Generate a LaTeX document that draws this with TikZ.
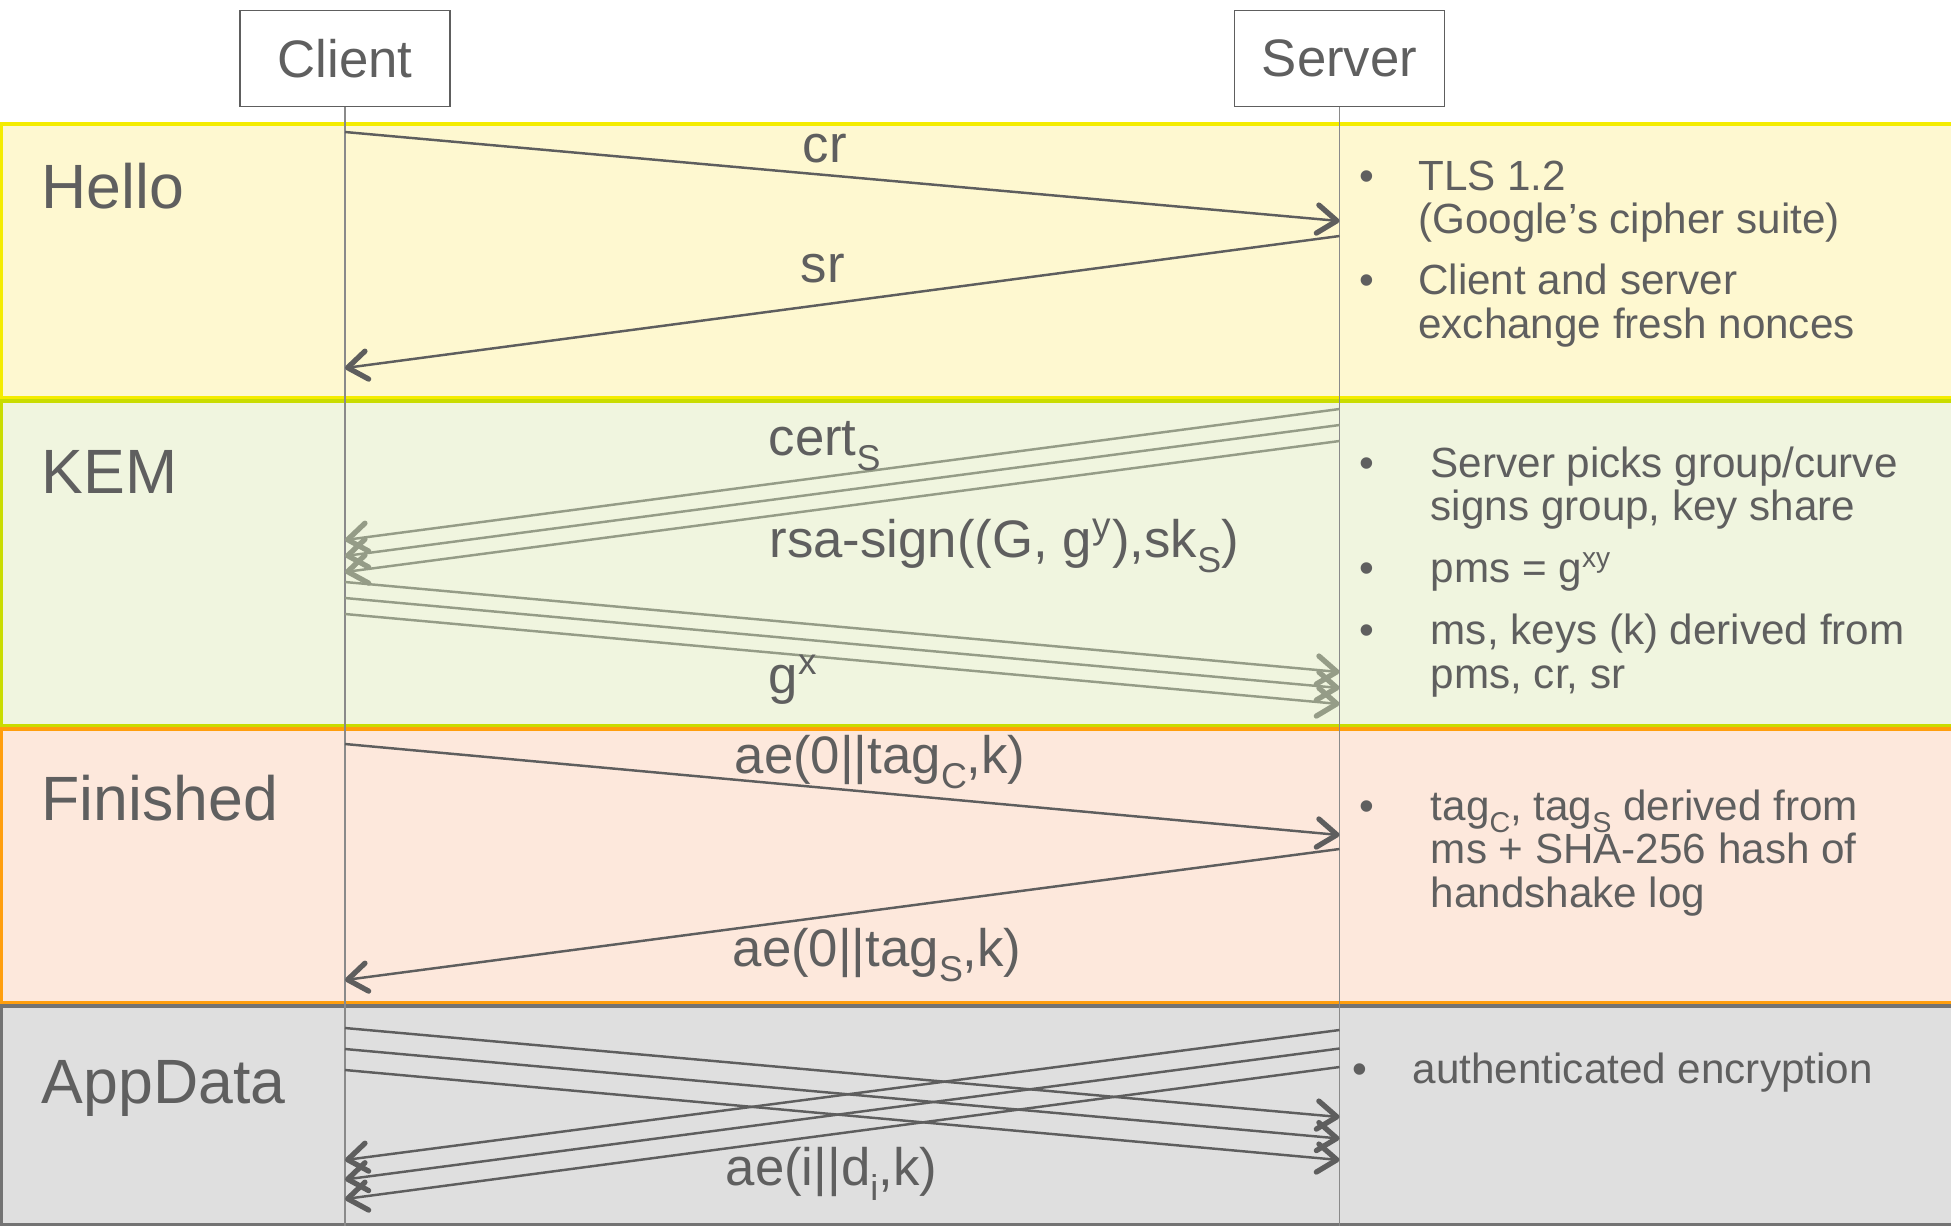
\documentclass[tikz,border=0pt]{standalone}
\usepackage{fontspec}
\setmainfont{Liberation Sans}
\usepackage{xcolor}
\usepackage{tikz}
\usetikzlibrary{arrows.meta}
\definecolor{textgrey}{HTML}{5F5F5F}
\definecolor{linegrey}{HTML}{5E5E5E}
\definecolor{kemgrey}{HTML}{959C87}
\definecolor{lifegrey}{HTML}{8A8A8A}
\definecolor{hellofill}{HTML}{FEF8D0}
\definecolor{helloedge}{HTML}{F4EC00}
\definecolor{kemfill}{HTML}{F0F5DF}
\definecolor{kemedge}{HTML}{C9DC00}
\definecolor{finfill}{HTML}{FDE8DC}
\definecolor{finedge}{HTML}{FF9E0D}
\definecolor{appfill}{HTML}{DFDFDF}
\definecolor{appedge}{HTML}{737373}
% lowered subscript, as in the slides
\newcommand{\lsub}[1]{\raisebox{-0.3em}{\scalebox{0.68}{#1}}}

\tikzset{
  party/.style={draw=linegrey, line width=0.45pt, fill=white, minimum width=2.1cm,
    minimum height=0.96cm, text=textgrey, font=\fontsize{15}{18}\selectfont},
  band/.style={line width=0.9pt},
  phase/.style={anchor=base west, inner sep=0pt, text=textgrey, font=\fontsize{17.8}{21}\selectfont},
  msglabel/.style={anchor=base west, inner sep=0pt, text=textgrey, font=\fontsize{15}{18}\selectfont},
  notes/.style={anchor=base west, inner sep=0pt, text=textgrey, font=\fontsize{12}{12.5}\selectfont},
  msg/.style={draw=linegrey, line width=0.7pt,
    -{Straight Barb[length=5.5pt, width=8pt, line width=1.5pt, round]}},
  kemmsg/.style={msg, draw=kemgrey},
  lifeline/.style={draw=lifegrey, line width=0.45pt},
}

\begin{document}
\begin{tikzpicture}[x=0.01cm, y=-0.01cm]
  \useasboundingbox (0,0) rectangle (1951,1226);

  % phases
  \draw[band, fill=hellofill, draw=helloedge] (1.5,124) rectangle (1965,398);
  \draw[band, fill=kemfill, draw=kemedge] (1.5,401) rectangle (1965,726);
  \draw[band, fill=finfill, draw=finedge] (1.5,729) rectangle (1965,1003);
  \draw[band, fill=appfill, draw=appedge] (1.5,1006) rectangle (1965,1224.5);

  \node[phase] (hello) at (41,208) {Hello};
  \node[phase] (kem) at (41,493) {KEM};
  \node[phase] (finished) at (41,820) {Finished};
  \node[phase] (appdata) at (41,1103) {AppData};

  % parties and lifelines
  \node[party] (client) at (345,58.5) {Client};
  \node[party] (server) at (1339.5,58.5) {Server};
  \coordinate (clientend) at (client |- 0,1226);
  \coordinate (serverend) at (server |- 0,1226);
  \draw[lifeline] (client.south) -- (clientend);
  \draw[lifeline] (server.south) -- (serverend);

  % Hello
  \draw[msg] (client |- 0,132) -- (server |- 0,221);
  \draw[msg] (server |- 0,236) -- (client |- 0,368);
  \node[msglabel] (cr) at (802,162) {cr};
  \node[msglabel] (sr) at (800,282) {sr};

  % KEM
  \foreach \dy in {0,16,32} {
    \draw[kemmsg] (server |- 0,{409+\dy}) -- (client |- 0,{540+\dy});
    \draw[kemmsg] (client |- 0,{582+\dy}) -- (server |- 0,{672+\dy});
  }
  \node[msglabel] (cert) at (768,455) {cert\lsub{S}};
  \node[msglabel] (sign) at (769,557) {rsa-sign((G, g\textsuperscript{y}),sk\lsub{S})};
  \node[msglabel] (gx) at (768,693) {g\textsuperscript{x}};

  % Finished
  \draw[msg] (client |- 0,744) -- (server |- 0,835);
  \draw[msg] (server |- 0,849) -- (client |- 0,980);
  \node[msglabel] (tagc) at (734,773) {ae(0||tag\lsub{C},k)};
  \node[msglabel] (tags) at (732,966) {ae(0||tag\lsub{S},k)};

  % AppData
  \foreach \i in {0,1,2} {
    \draw[msg] (client |- 0,{1028+21*\i}) -- (server |- 0,{1117+21.5*\i});
    \draw[msg] (server |- 0,{1030+18.5*\i}) -- (client |- 0,{1160+19.5*\i});
  }
  \node[msglabel] (data) at (725,1185) {ae(i||d\lsub{i},k)};

  % notes
  \node[notes] (hellonotes) at (1358.6,190) {\begin{tabular}[t]{@{}p{0.59cm}@{}l@{}}
    \textbullet & TLS 1.2\\
    & (Google's cipher suite)\\[4.8pt]
    \textbullet & Client and server\\
    & exchange fresh nonces
  \end{tabular}};
  \node[notes] (kemnotes) at (1358.6,477) {\begin{tabular}[t]{@{}p{0.715cm}@{}l@{}}
    \textbullet & Server picks group/curve\\
    & signs group, key share\\[5pt]
    \textbullet & pms = g\textsuperscript{xy}\\[5pt]
    \textbullet & ms, keys (k) derived from\\
    & pms, cr, sr
  \end{tabular}};
  \node[notes] (finnotes) at (1358.6,820) {\begin{tabular}[t]{@{}p{0.715cm}@{}l@{}}
    \textbullet & tag\lsub{C}, tag\lsub{S} derived from\\
    & ms + SHA-256 hash of\\
    & handshake log
  \end{tabular}};
  \node[notes] (appnotes) at (1351.6,1083) {\begin{tabular}[t]{@{}p{0.605cm}@{}l@{}}
    \textbullet & authenticated encryption
  \end{tabular}};
\end{tikzpicture}
\end{document}
